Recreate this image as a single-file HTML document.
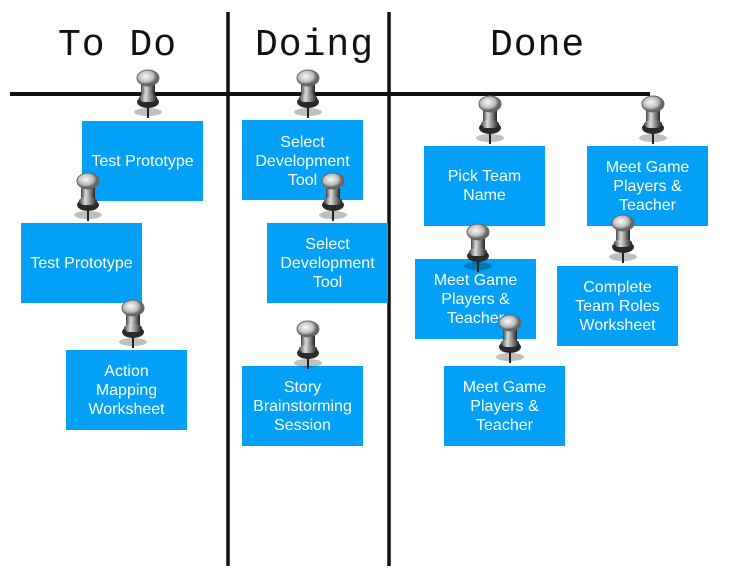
<!DOCTYPE html>
<html><head><meta charset="utf-8"><style>
html,body{margin:0;padding:0;background:#fff;}
body{width:731px;height:588px;position:relative;overflow:hidden;font-family:"Liberation Sans",Arial,sans-serif;}
.n{position:absolute;width:121px;height:80px;background:#02a0f6;color:#fff;font-size:16px;line-height:19px;text-align:center;display:flex;align-items:center;justify-content:center;}
.h{position:absolute;top:24px;font-family:"Liberation Mono",monospace;font-size:38px;color:#111;letter-spacing:1px;}
svg{position:absolute;left:0;top:0;}
</style></head><body>
<svg width="731" height="588" style="z-index:0">
<line x1="228" y1="12" x2="228" y2="566" stroke="#111" stroke-width="3.5"/>
<line x1="389" y1="12" x2="389" y2="566" stroke="#111" stroke-width="3.5"/>
<line x1="10" y1="94" x2="650" y2="94" stroke="#111" stroke-width="4"/>
</svg>
<div class="h" style="left:58px">To Do</div>
<div class="h" style="left:255px">Doing</div>
<div class="h" style="left:490px">Done</div>

<div class="n" style="left:82px;top:121px">Test Prototype</div>
<div class="n" style="left:21px;top:223px">Test Prototype</div>
<div class="n" style="left:66px;top:350px">Action<br>Mapping<br>Worksheet</div>
<div class="n" style="left:242px;top:120px;align-items:flex-start;padding-top:13px;height:67px">Select<br>Development<br>Tool</div>
<div class="n" style="left:267px;top:223px">Select<br>Development<br>Tool</div>
<div class="n" style="left:242px;top:366px">Story<br>Brainstorming<br>Session</div>
<div class="n" style="left:424px;top:146px">Pick Team<br>Name</div>
<div class="n" style="left:587px;top:146px">Meet Game<br>Players &amp;<br>Teacher</div>
<div class="n" style="left:415px;top:259px">Meet Game<br>Players &amp;<br>Teacher</div>
<div class="n" style="left:557px;top:266px">Complete<br>Team Roles<br>Worksheet</div>
<div class="n" style="left:444px;top:366px">Meet Game<br>Players &amp;<br>Teacher</div>

<svg width="731" height="588" style="z-index:5">
<defs>
<linearGradient id="g" x1="0" x2="1"><stop offset="0" stop-color="#444"/><stop offset=".35" stop-color="#ddd"/><stop offset=".7" stop-color="#777"/><stop offset="1" stop-color="#222"/></linearGradient>
<radialGradient id="hd" cx=".4" cy=".4"><stop offset="0" stop-color="#fafafa"/><stop offset=".7" stop-color="#bbb"/><stop offset="1" stop-color="#666"/></radialGradient>
<g id="p">
<ellipse cx="0" cy="42" rx="14" ry="4" fill="#000" opacity=".25"/>
<line x1="0" y1="34" x2="0" y2="48" stroke="#222" stroke-width="2"/>
<ellipse cx="0" cy="32" rx="11" ry="6" fill="#2a2a2a"/>
<rect x="-7" y="8" width="14" height="24" fill="url(#g)"/>
<ellipse cx="0" cy="28" rx="9" ry="4" fill="url(#g)"/>
<ellipse cx="0" cy="8" rx="11" ry="8" fill="url(#hd)" stroke="#666" stroke-width="1"/>
</g>
</defs>
<use href="#p" x="148" y="70"/>
<use href="#p" x="308" y="70"/>
<use href="#p" x="490" y="96"/>
<use href="#p" x="653" y="96"/>
<use href="#p" x="88" y="173"/>
<use href="#p" x="333" y="173"/>
<use href="#p" x="478" y="224"/>
<use href="#p" x="623" y="215"/>
<use href="#p" x="133" y="300"/>
<use href="#p" x="308" y="321"/>
<use href="#p" x="510" y="315"/>
</svg>
</body></html>
